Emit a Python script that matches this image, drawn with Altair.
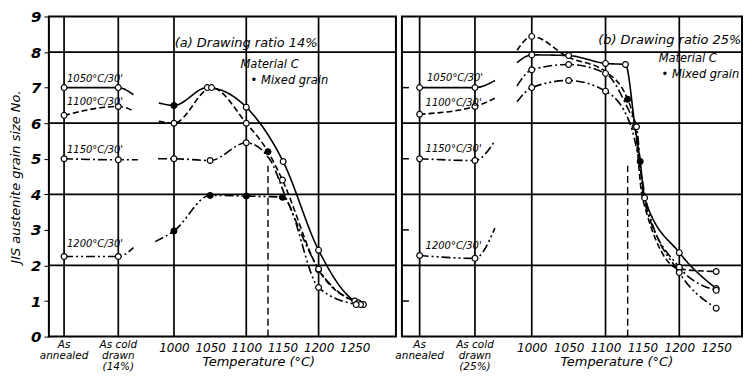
import altair as alt
import pandas as pd

# ---------------- data ----------------
A = 848   # "As annealed" slot on the temperature axis
C = 923   # "As cold drawn" slot on the temperature axis

SERIES = ["1050°C/30'", "1100°C/30'", "1150°C/30'", "1200°C/30'"]
DASHES = [[1, 0], [6, 3], [9, 3, 2, 3], [9, 3, 2, 3, 2, 3]]

# marker codes: 'o' = open circle, 'f' = mixed grain (filled), '' = no marker
# (a) drawing ratio 14 %
a_1050_pre = [(A, 7.0, 'o'), (C, 7.0, 'o'), (944, 6.8, '')]
a_1050_main = [(979, 6.57, ''), (1000, 6.5, 'f'), (1046, 7.0, 'o'), (1100, 6.45, 'o'),
               (1151, 4.92, 'o'), (1200, 2.43, 'o'), (1250, 1.0, 'o'), (1262, 0.9, 'o')]
a_1100_pre = [(A, 6.22, 'o'), (C, 6.47, 'o'), (944, 6.35, '')]
a_1100_main = [(979, 6.05, ''), (1000, 6.0, 'o'), (1052, 7.0, 'o'), (1100, 6.0, 'o'),
               (1130, 5.2, 'f'), (1150, 4.4, 'o'), (1200, 1.88, 'o'), (1255, 0.95, 'o')]
a_1150_pre = [(A, 5.0, 'o'), (C, 4.97, 'o'), (950, 4.97, '')]
a_1150_main = [(978, 5.0, ''), (1000, 5.0, 'o'), (1050, 4.95, 'o'), (1100, 5.45, 'o'),
               (1132, 5.0, ''), (1155, 3.9, ''), (1200, 1.9, 'o'), (1258, 0.9, 'o')]
a_1200_pre = [(A, 2.25, 'o'), (C, 2.25, 'o'), (944, 2.5, '')]
a_1200_main = [(974, 2.67, ''), (1000, 2.97, 'f'), (1050, 3.97, 'f'), (1100, 3.95, 'f'),
               (1150, 3.92, 'f'), (1200, 1.38, 'o'), (1252, 0.9, 'o')]

# (b) drawing ratio 25 %
b_1050_pre = [(A, 7.0, 'o'), (C, 7.0, 'o'), (950, 7.2, '')]
b_1050_main = [(980, 7.7, ''), (1000, 7.92, 'o'), (1050, 7.9, 'o'), (1100, 7.68, 'o'),
               (1127, 7.65, 'o'), (1140, 5.9, ''), (1147, 4.92, 'f'), (1153, 3.9, 'o'),
               (1200, 2.36, 'o'), (1250, 1.35, 'o')]
b_1100_pre = [(A, 6.25, 'o'), (C, 6.47, 'o'), (950, 6.7, '')]
b_1100_main = [(980, 8.05, ''), (1000, 8.44, 'o'), (1050, 7.85, ''), (1100, 7.45, ''),
               (1130, 6.67, 'f'), (1140, 5.9, 'o'), (1150, 3.9, ''), (1200, 1.9, 'o'),
               (1250, 1.83, 'o')]
b_1150_pre = [(A, 5.0, 'o'), (C, 4.95, 'o'), (950, 5.5, '')]
b_1150_main = [(980, 7.05, ''), (1000, 7.5, 'o'), (1050, 7.65, 'o'), (1100, 7.4, 'o'),
               (1133, 6.3, ''), (1142, 5.9, 'o'), (1152, 3.85, ''), (1200, 1.95, 'o'),
               (1250, 1.3, 'o')]
b_1200_pre = [(A, 2.28, 'o'), (C, 2.2, 'o'), (950, 3.05, '')]
b_1200_main = [(980, 6.6, ''), (1000, 7.0, 'o'), (1050, 7.2, 'o'), (1100, 6.9, 'o'),
               (1133, 6.0, ''), (1145, 5.0, ''), (1155, 3.8, ''), (1200, 1.8, 'o'),
               (1250, 0.8, 'o')]

Y_TICKS = list(range(10))
GRID_Y = [2, 4, 6, 8]
ODD_Y = [1, 3, 5, 7]
GRID_X = [A, C, 1000, 1100, 1200]
TEMP_TICKS = [1000, 1050, 1100, 1150, 1200, 1250]
DASH_X = 1130

# series label annotations: (series, x, y)
a_labels = [(SERIES[0], 852, 7.1), (SERIES[1], 852, 6.45), (SERIES[2], 852, 5.1), (SERIES[3], 852, 2.45)]
b_labels = [(SERIES[0], 858, 7.12), (SERIES[1], 856, 6.42), (SERIES[2], 856, 5.12), (SERIES[3], 856, 2.42)]
a_notes = [("(a) Drawing ratio 14%", 1001, 8.05, 13), ("Material C", 1092, 7.5, 11.5), ("• Mixed grain", 1106, 7.05, 11.5)]
b_notes = [("(b) Drawing ratio 25%", 1090, 8.15, 13), ("Material C", 1172, 7.67, 11.5), ("• Mixed grain", 1176, 7.22, 11.5)]

FONT = "DejaVu Sans"


def build_rows(groups):
    rows = []
    for sname, segs in groups:
        for k, seg in enumerate(segs):
            for (x, y, m) in seg:
                rows.append({"series": sname, "seg": f"{sname}-{k}", "x": x, "y": y, "mk": m})
    return pd.DataFrame(rows)


def panel(groups, labels, notes, domain, W, H, left, cat_label):
    df = build_rows(groups)
    xscale = alt.Scale(domain=domain, nice=False, zero=False)
    yscale = alt.Scale(domain=[0, 9], nice=False, zero=False)
    if left:
        yaxis = alt.Axis(values=Y_TICKS, grid=False, domain=False, tickSize=5, tickColor="black",
                         labelFont=FONT, labelFontSize=15, labelFontWeight="bold",
                         labelFontStyle="italic", labelColor="black", labelPadding=3,
                         title="JIS austenite grain size No.", titleFont=FONT, titleFontSize=13,
                         titleFontStyle="italic", titleFontWeight="normal", titleColor="black",
                         titlePadding=8)
    else:
        yaxis = None
    tx = 210 if left else 215
    xaxis = alt.Axis(values=TEMP_TICKS, format="d", ticks=False, domain=False, grid=False,
                     labelFont=FONT, labelFontSize=12, labelFontStyle="italic", labelColor="black",
                     labelPadding=6, title="Temperature (°C)", titleFont=FONT, titleFontSize=13,
                     titleFontStyle="italic", titleFontWeight="normal", titleColor="black",
                     titleX=tx, titlePadding=2)

    def X(f="x"):
        return alt.X(f"{f}:Q", scale=xscale, axis=xaxis)

    def Y(f="y"):
        return alt.Y(f"{f}:Q", scale=yscale, axis=yaxis)

    hgrid = alt.Chart(pd.DataFrame({"y": GRID_Y})).mark_rule(color="black", strokeWidth=1.7).encode(
        y=Y(), x=alt.value(0), x2=alt.value(W))
    vgrid = alt.Chart(pd.DataFrame({"x": GRID_X})).mark_rule(color="black", strokeWidth=1.7).encode(
        x=X(), y=alt.value(0), y2=alt.value(H))
    dash = alt.Chart(pd.DataFrame({"x": [DASH_X], "y": [0], "y2": [4.8]})).mark_rule(
        color="black", strokeWidth=1.4, strokeDash=[7, 4]).encode(x=X(), y=Y(), y2="y2:Q")
    odd = alt.Chart(pd.DataFrame({"y": ODD_Y})).mark_rule(color="black", strokeWidth=1.5).encode(
        y=Y(), x=alt.value(0), x2=alt.value(7))

    lines = alt.Chart(df).mark_line(color="black", strokeWidth=1.6, interpolate="monotone").encode(
        x=X(), y=Y(), detail="seg:N",
        strokeDash=alt.StrokeDash("series:N", scale=alt.Scale(domain=SERIES, range=DASHES), legend=None))
    pts = alt.Chart(df).transform_filter("datum.mk != ''").mark_point(
        shape="circle", filled=True, stroke="black", strokeWidth=1.2, size=34, opacity=1).encode(
        x=X(), y=Y(),
        fill=alt.Fill("mk:N", scale=alt.Scale(domain=["o", "f"], range=["white", "black"]), legend=None))

    ldf = pd.DataFrame(labels, columns=["t", "x", "y"])
    lab = alt.Chart(ldf).mark_text(font=FONT, fontSize=10, fontStyle="italic", align="left",
                                   baseline="bottom", color="black").encode(x=X(), y=Y(), text="t:N")
    ndf = pd.DataFrame(notes, columns=["t", "x", "y", "s"])
    note = alt.Chart(ndf).mark_text(font=FONT, fontStyle="italic", align="left", baseline="bottom",
                                    color="black").encode(x=X(), y=Y(), text="t:N",
                                                          size=alt.Size("s:Q", scale=None, legend=None))
    cdf = pd.DataFrame({"x": [A, C], "t": ["As\nannealed", cat_label]})
    cat = alt.Chart(cdf).mark_text(font=FONT, fontSize=10.5, fontStyle="italic", baseline="top",
                                   align="center", lineBreak="\n", lineHeight=11, color="black").encode(
        x=X(), y=alt.value(H + 3), text="t:N")

    layers = [hgrid, vgrid, dash, lines, pts, lab, note, cat]
    if not left:
        layers.insert(3, odd)
    return alt.layer(*layers).properties(width=W, height=H)


H = 321
left = panel([(SERIES[0], [a_1050_pre, a_1050_main]), (SERIES[1], [a_1100_pre, a_1100_main]),
              (SERIES[2], [a_1150_pre, a_1150_main]), (SERIES[3], [a_1200_pre, a_1200_main])],
             a_labels, a_notes, [827, 1307], 348, H, True, "As cold\ndrawn\n(14%)")
right = panel([(SERIES[0], [b_1050_pre, b_1050_main]), (SERIES[1], [b_1100_pre, b_1100_main]),
               (SERIES[2], [b_1150_pre, b_1150_main]), (SERIES[3], [b_1200_pre, b_1200_main])],
              b_labels, b_notes, [824, 1285], 341, H, False, "As cold\ndrawn\n(25%)")

chart = alt.hconcat(left, right, spacing=6, bounds="flush").properties(
    padding={"left": 0, "top": 0, "right": 0, "bottom": 0}, background="white"
).configure_view(stroke="black", strokeWidth=2)

chart.save("out.html", embed_options={"renderer": "svg", "actions": False})
